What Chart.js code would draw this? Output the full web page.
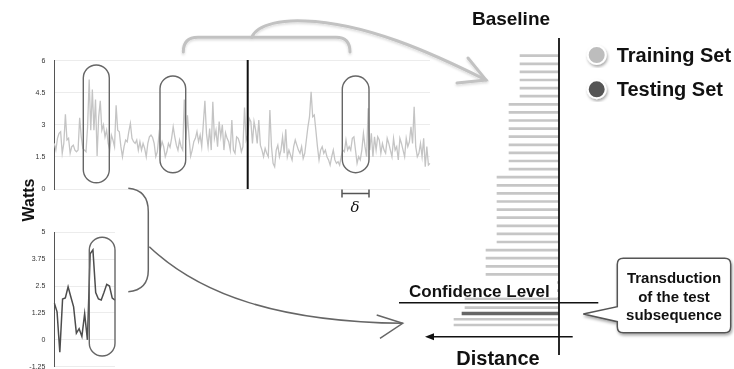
<!DOCTYPE html>
<html>
<head>
<meta charset="utf-8">
<script src="https://cdn.jsdelivr.net/npm/chart.js@4.4.1/dist/chart.umd.min.js"></script>
<style>
  body { margin: 0; background: #fff; }
  #wrap { position: relative; width: 734px; height: 369px; overflow: hidden; }
  #wrap canvas, #wrap svg { position: absolute; left: 0; top: 0; }
  svg text { font-family: 'Liberation Sans', Arial, Helvetica, sans-serif; font-weight: bold; fill: #111; }
</style>
</head>
<body>
<div id="wrap">
  <canvas id="seriesChart" width="734" height="369"></canvas>
  <canvas id="windowChart" width="734" height="400"></canvas>
  <canvas id="rankChart" width="734" height="369"></canvas>
  <canvas id="nearChart" width="734" height="369"></canvas>
  <svg width="734" height="369" viewBox="0 0 734 369">
    <defs>
      <filter id="shadow" x="-20%" y="-20%" width="140%" height="140%">
        <feDropShadow dx="1" dy="2" stdDeviation="1.5" flood-color="#000" flood-opacity="0.35"/>
      </filter>
      <filter id="soft" x="-10%" y="-10%" width="120%" height="130%">
        <feDropShadow dx="0" dy="1.5" stdDeviation="1" flood-color="#000" flood-opacity="0.15"/>
      </filter>
    </defs>

    <!-- training / testing split on the long series -->
    <line x1="247.7" y1="60" x2="247.7" y2="189" stroke="#111" stroke-width="2"/>

    <!-- sliding windows -->
    <g fill="none" stroke="#666" stroke-width="1.4">
      <rect x="83.3" y="65" width="26" height="117.7" rx="13"/>
      <rect x="160" y="76" width="25.7" height="96.7" rx="12.8"/>
      <rect x="342.3" y="76" width="26.7" height="96.7" rx="13.3"/>
      <rect x="89.3" y="237.3" width="25.7" height="118.7" rx="12.8"/>
    </g>

    <!-- delta marker -->
    <g stroke="#555" stroke-width="1.5" fill="none">
      <path d="M342 193.5 H369 M342 189.5 V197.5 M369 189.5 V197.5"/>
    </g>
    <text x="355" y="212" text-anchor="middle" style="font-family:'DejaVu Serif','Liberation Serif',serif;font-style:italic;font-weight:normal;font-size:15px;">δ</text>

    <!-- grey brace + arrow to the baseline -->
    <g fill="none" stroke="#c2c2c2" stroke-width="3" stroke-linecap="round" filter="url(#soft)">
      <path d="M183.3 52 Q183.3 37.3 198 37.3 L336 37.3 Q350 37.3 350 52"/>
      <path d="M251.7 37.3 C258 23, 285 20, 305 21 C365 23, 430 52, 486 80"/>
      <path d="M468 58 L486 80 L457 83"/>
    </g>

    <!-- dark brace + arrow from the test subsequence -->
    <g fill="none" stroke="#666" stroke-width="1.5">
      <path d="M128.3 188.3 Q148.3 190 148.3 211.7 L148.3 270 Q148.3 290 128.3 291.7"/>
      <path d="M149.3 246.7 C200 295, 280 322, 402.7 323.3"/>
      <path d="M376.7 315 L402.7 323.3 L380 338.3"/>
    </g>

    <!-- baseline axis -->
    <line x1="559" y1="38" x2="559" y2="355" stroke="#111" stroke-width="1.8"/>
    <text x="511" y="25" text-anchor="middle" style="font-size:19px;">Baseline</text>

    <!-- confidence level -->
    <rect x="405" y="280" width="152" height="17.5" fill="#fff"/>
    <text x="409" y="296.5" style="font-size:17px;">Confidence Level</text>
    <line x1="399" y1="302.7" x2="598.3" y2="302.7" stroke="#111" stroke-width="1.5"/>

    <!-- distance arrow -->
    <line x1="572.7" y1="336.7" x2="432" y2="336.7" stroke="#111" stroke-width="1.5"/>
    <polygon points="425,336.7 434,333.2 434,340.2" fill="#111"/>
    <text x="498" y="365" text-anchor="middle" style="font-size:20px;">Distance</text>

    <!-- legend -->
    <circle cx="596.7" cy="55" r="9" fill="#bdbdbd" stroke="#fff" stroke-width="2" filter="url(#shadow)"/>
    <circle cx="596.7" cy="89.3" r="9" fill="#555" stroke="#fff" stroke-width="2" filter="url(#shadow)"/>
    <text x="616.7" y="62" style="font-size:20px;">Training Set</text>
    <text x="616.7" y="96" style="font-size:20px;">Testing Set</text>

    <!-- callout -->
    <path d="M623.3 258.3 H724.7 Q730.7 258.3 730.7 264.3 V326.7 Q730.7 332.7 724.7 332.7 H623.3 Q617.3 332.7 617.3 326.7 V321.7 L583.3 314 L617.3 306.7 V264.3 Q617.3 258.3 623.3 258.3 Z"
          fill="#fff" stroke="#555" stroke-width="1.5" filter="url(#shadow)"/>
    <g text-anchor="middle" style="font-size:15px;">
      <text x="674" y="282.7">Transduction</text>
      <text x="674" y="301.7">of the test</text>
      <text x="674" y="320">subsequence</text>
    </g>

    <!-- y axis title -->
    <text transform="translate(33.5,200) rotate(-90)" text-anchor="middle" style="font-size:16px;">Watts</text>
  </svg>
</div>

<script>
// power trace (watts)
const seriesWatts = [
  2.13, 1.82, 2.37, 2.6, 2.68, 1.67, 2.13, 3.49, 2.29, 2.37,
  1.67, 1.98, 2.05, 1.82, 1.74, 1.82, 3.33, 2.44, 1.9, 1.82,
  1.74, 2.9, 5.12, 2.75, 4.65, 2.75, 4.18, 1.54, 3.37, 4.12,
  2.75, 3.0, 2.44, 2.75, 2.13, 1.82, 2.52, 2.29, 1.98, 3.92,
  2.75, 2.68, 1.98, 1.51, 1.98, 2.29, 2.21, 2.68, 3.07, 2.37,
  2.21, 2.13, 2.29, 1.82, 2.21, 1.82, 2.13, 1.9, 1.51, 2.13,
  2.44, 2.52, 2.41, 2.13, 1.51, 1.74, 2.52, 1.9, 2.21, 1.98,
  1.51, 1.74, 2.13, 1.95, 2.37, 2.91, 2.44, 2.05, 1.82, 2.29,
  1.98, 1.82, 4.18, 2.29, 3.45, 2.44, 1.54, 1.82, 2.21, 2.37,
  2.68, 2.21, 2.52, 1.98, 3.04, 4.12, 2.6, 1.98, 2.83, 1.82,
  4.08, 2.37, 2.75, 1.98, 3.15, 2.44, 3.0, 1.82, 2.63, 2.37,
  2.21, 1.82, 3.22, 1.82, 1.67, 2.44, 2.37, 2.13, 1.74, 1.98,
  3.81, 2.29, 2.52,
  3.3, 3.15, 2.13, 3.15, 2.75, 2.13, 3.22, 2.05, 1.82, 1.51,
  1.9, 1.67, 1.51, 3.69, 1.98, 1.2, 1.04, 1.82, 2.05, 1.51,
  1.82, 2.44, 1.67, 2.79, 1.51, 1.82, 1.59, 1.36, 1.98, 2.29,
  2.05, 1.82, 1.67, 1.98, 1.43, 1.67, 2.29, 2.91, 3.38, 4.55,
  3.38, 3.46, 2.75, 1.98, 1.36, 1.82, 1.98, 1.67, 1.82, 1.51,
  1.36, 1.12, 1.51, 1.82, 1.36, 1.2, 1.28, 1.12, 1.51, 1.82,
  1.74, 2.29, 1.82, 1.98, 1.82, 2.37, 2.44, 1.82, 1.2, 1.51,
  1.36, 1.82, 2.6, 1.98, 1.51, 3.77, 1.82, 2.6, 1.51, 2.44,
  1.82, 2.44, 2.29, 1.67, 2.13, 1.82, 1.67, 2.37, 2.13, 1.82,
  1.51, 2.37, 1.82, 1.98, 1.36, 2.37, 2.13, 1.82, 1.51, 2.37,
  1.98, 2.21, 2.91, 2.13, 3.85, 1.98, 1.51, 1.67, 2.13, 1.51,
  2.37, 1.04, 1.98, 1.12, 1.2
];
const seriesTicks = [0, 1.5, 3, 4.5, 6];

// test subsequence (normalised)
const windowValues = [
  1.71, 1.3, -0.58, 1.9, 1.95, 2.47, 1.99, 1.53, 0.31, 0.52,
  0.16, 1.22, 0.0, 4.0, 4.18, 2.2, 1.9, 1.85, 2.2, 2.58,
  2.5, 1.94, 1.85
];
const windowTicks = [-1.25, 0, 1.25, 2.5, 3.75, 5];

// sorted distances to the baseline
const aboveConfidence = [
  3.9, 3.9, 3.9, 3.9, 3.9, 3.9,
  5.0, 5.0, 5.0, 5.0, 5.0, 5.0, 5.0, 5.0, 5.0,
  6.2, 6.2, 6.2, 6.2, 6.2, 6.2, 6.2, 6.2, 6.2,
  7.3, 7.3, 7.3, 7.3,
  8.3, 8.8, 9.4
];
const belowTraining = [9.4, null, 10.5, 10.5];
const belowTesting = [null, 9.7, null, null];

const FONT = 'Liberation Sans';
const base = {
  responsive: false,
  animation: false,
  devicePixelRatio: 1,
  plugins: { legend: { display: false }, tooltip: { enabled: false } }
};

function tickAxis(ticks) {
  return {
    min: ticks[0],
    max: ticks[ticks.length - 1],
    afterBuildTicks: (scale) => { scale.ticks = ticks.map(v => ({ value: v })); },
    afterFit: (scale) => { scale.width = 54.3; },
    grid: { color: '#ececec', drawTicks: false },
    border: { color: '#555', width: 1 },
    ticks: {
      padding: 9,
      color: '#333',
      font: { family: FONT, size: 7 },
      callback: (value) => String(value)
    }
  };
}

new Chart(document.getElementById('seriesChart'), {
  type: 'line',
  data: {
    labels: seriesWatts.map((_, i) => i),
    datasets: [{
      data: seriesWatts,
      borderColor: '#c4c4c4',
      borderWidth: 1.3,
      pointRadius: 0,
      tension: 0
    }]
  },
  options: {
    ...base,
    layout: { padding: { left: 0, top: 60.7, right: 304, bottom: 180 } },
    scales: {
      x: { display: false },
      y: tickAxis(seriesTicks)
    }
  }
});

new Chart(document.getElementById('windowChart'), {
  type: 'line',
  data: {
    labels: windowValues.map((_, i) => i),
    datasets: [{
      data: windowValues,
      borderColor: '#4d4d4d',
      borderWidth: 1.5,
      pointRadius: 0,
      tension: 0
    }]
  },
  options: {
    ...base,
    layout: { padding: { left: 0, top: 232.3, right: 619, bottom: 33.3 } },
    scales: {
      x: { display: false },
      y: tickAxis(windowTicks)
    }
  }
});

const distScale = { display: false, min: 0, max: 13, reverse: true };

new Chart(document.getElementById('rankChart'), {
  type: 'bar',
  data: {
    labels: aboveConfidence.map((_, i) => i),
    datasets: [{
      data: aboveConfidence,
      backgroundColor: '#c6c6c6',
      barThickness: 2
    }]
  },
  options: {
    ...base,
    indexAxis: 'y',
    layout: { padding: { left: 429, top: 51.65, right: 175, bottom: 66.25 } },
    scales: { x: distScale, y: { display: false } }
  }
});

new Chart(document.getElementById('nearChart'), {
  type: 'bar',
  data: {
    labels: belowTraining.map((_, i) => i),
    datasets: [
      { label: 'Training Set', data: belowTraining, backgroundColor: '#c6c6c6', barThickness: 2, grouped: false },
      { label: 'Testing Set', data: belowTesting, backgroundColor: '#666', barThickness: 3, grouped: false }
    ]
  },
  options: {
    ...base,
    indexAxis: 'y',
    layout: { padding: { left: 429, top: 304.8, right: 175, bottom: 41.1 } },
    scales: { x: distScale, y: { display: false } }
  }
});
</script>
</body>
</html>
